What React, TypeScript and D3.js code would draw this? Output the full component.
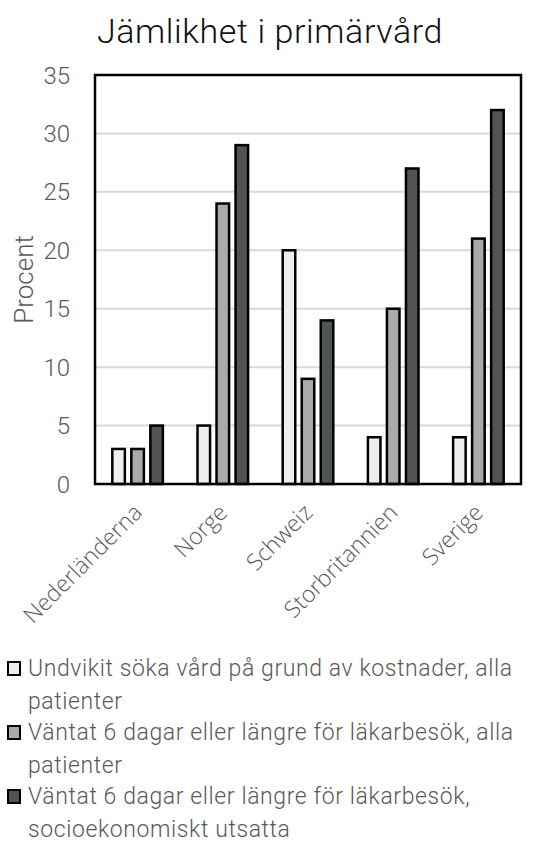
import * as d3 from "d3";

// chart data
const categories = ["Nederländerna", "Norge", "Schweiz", "Storbritannien", "Sverige"];
const undvikitAlla = [3, 5, 20, 4, 4];
const vantatAlla = [3, 24, 9, 15, 21];
const vantatUtsatta = [5, 29, 14, 27, 32];
const yTicks = [0, 5, 10, 15, 20, 25, 30, 35];
const seriesKeys = ["undvikit", "vantatAlla", "vantatUtsatta"];
const legendLines = [
  ["Undvikit söka vård på grund av kostnader, alla", "patienter"],
  ["Väntat 6 dagar eller längre för läkarbesök, alla", "patienter"],
  ["Väntat 6 dagar eller längre för läkarbesök,", "socioekonomiskt utsatta"],
];

const colors = ["#eeeeee", "#a9abab", "#505454"];
const textColor = "#595959";
const font = "Roboto, 'Noto Sans', sans-serif";

const W = 551;
const H = 845;
const plot = { left: 95, right: 521, top: 75, bottom: 484 };

export default function App() {
  const values = [undvikitAlla, vantatAlla, vantatUtsatta];

  const x = d3.scaleBand().domain(categories).range([plot.left, plot.right]);
  const xs = d3
    .scaleBand()
    .domain(seriesKeys)
    .range([0, x.bandwidth()])
    .paddingInner(0.34)
    .paddingOuter(0.91);
  const y = d3.scaleLinear().domain([0, 35]).range([plot.bottom, plot.top]);

  return (
    <svg
      width={W}
      height={H}
      style={{ position: "absolute", left: 0, top: 0, background: "#fff" }}
    >
      <text
        x={270}
        y={43}
        textAnchor="middle"
        fontFamily={font}
        fontWeight={300}
        fontSize={34}
        letterSpacing={0.6}
        fill="#111"
      >
        Jämlikhet i primärvård
      </text>

      {/* grid lines */}
      {yTicks
        .filter((t) => t > 0 && t < 35)
        .map((t) => (
          <line
            key={"g" + t}
            x1={plot.left}
            x2={plot.right}
            y1={y(t)}
            y2={y(t)}
            stroke="#d9d9d9"
            strokeWidth={2}
          />
        ))}

      {/* tick labels */}
      {yTicks.map((t) => (
        <text
          key={"t" + t}
          x={70}
          y={y(t)}
          dy="0.36em"
          textAnchor="end"
          fontFamily={font}
          fontWeight={300}
          fontSize={24}
          fill={textColor}
        >
          {t}
        </text>
      ))}

      <text
        transform={`translate(33, ${(plot.top + plot.bottom) / 2}) rotate(-90)`}
        textAnchor="middle"
        fontFamily={font}
        fontWeight={300}
        fontSize={26}
        fill={textColor}
      >
        Procent
      </text>

      {/* bars */}
      {categories.map((c, ci) => (
        <g key={c} transform={`translate(${x(c)},0)`}>
          {seriesKeys.map((k, si) => (
            <rect
              key={k}
              x={xs(k)}
              y={y(values[si][ci])}
              width={xs.bandwidth()}
              height={y(0) - y(values[si][ci])}
              fill={colors[si]}
              stroke="#000"
              strokeWidth={2.5}
            />
          ))}
        </g>
      ))}

      <rect
        x={plot.left}
        y={plot.top}
        width={plot.right - plot.left}
        height={plot.bottom - plot.top}
        fill="none"
        stroke="#000"
        strokeWidth={2.5}
      />

      {/* category labels */}
      {categories.map((c) => (
        <text
          key={"c" + c}
          transform={`translate(${x(c)! + x.bandwidth() / 2 + 6}, 514) rotate(-45)`}
          textAnchor="end"
          fontFamily="'Open Sans', sans-serif"
          fontWeight={300}
          fontSize={23}
          fill={textColor}
        >
          {c}
        </text>
      ))}

      {/* legend */}
      {legendLines.map((lines, i) => {
        const base = 676 + i * 64;
        return (
          <g key={"l" + i}>
            <rect
              x={8}
              y={base - 14}
              width={12}
              height={13}
              fill={colors[i]}
              stroke="#000"
              strokeWidth={2}
            />
            {lines.map((ln, j) => (
              <text
                key={j}
                x={28}
                y={base + j * 33}
                fontFamily={font}
                fontWeight={300}
                fontSize={23}
                letterSpacing={0.6}
                fill={textColor}
              >
                {ln}
              </text>
            ))}
          </g>
        );
      })}
    </svg>
  );
}
